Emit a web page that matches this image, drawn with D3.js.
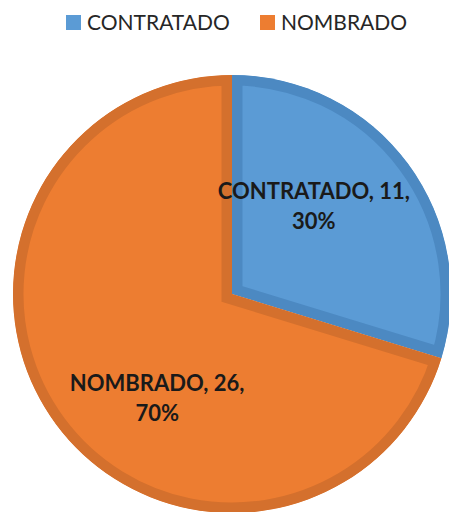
<!DOCTYPE html>
<html>
<head>
<meta charset="utf-8">
<script src="https://cdn.jsdelivr.net/npm/d3@7"></script>
<style>
  body { margin: 0; background: #fff; }
  svg { display: block; }
</style>
</head>
<body>
<div id="vizArea"></div>
<script>
var w = 449
var h = 512

// DATA ********************************
var categories = ["CONTRATADO", "NOMBRADO"]
var counts = [11, 26]
var percentLabels = ["30%", "70%"]

var fills = ["#5B9BD5", "#ED7D31"]
var borders = ["#4C89C2", "#D4702D"]

var svg = d3.select("#vizArea").append("svg")
    .attr("width", w)
    .attr("height", h)

// PIE SET-UP ********************************
var cx = 232, cy = 294, radius = 219

var pie = d3.pie().sort(null).value(function(d){ return d.value; })
var arc = d3.arc().innerRadius(0).outerRadius(radius)

var data = categories.map(function(c, i){
    return {name: c, value: counts[i], pct: percentLabels[i], i: i}
})
var arcs = pie(data)

var g = svg.append("g").attr("transform", "translate(" + cx + "," + cy + ")")

// clip every slice to itself so its thick border only shows on the inside
var defs = svg.append("defs")
defs.selectAll("clipPath")
    .data(arcs)
    .enter()
    .append("clipPath")
    .attr("id", function(d){ return "clip" + d.data.i; })
    .append("path")
    .attr("d", arc)

g.selectAll("path.slice")
    .data(arcs)
    .enter()
    .append("path")
    .attr("class", "slice")
    .attr("d", arc)
    .attr("clip-path", function(d){ return "url(#clip" + d.data.i + ")"; })
    .style("fill", function(d){ return fills[d.data.i]; })
    .style("stroke", function(d){ return borders[d.data.i]; })
    .style("stroke-width", 21)
    .style("stroke-linejoin", "miter")

// DATA LABELS *********************
// start from slice centroid, then nudge like excel does
var labelArc = d3.arc().innerRadius(radius * 0.55).outerRadius(radius * 0.55)
var nudges = [[-15, -21], [22, 28]]

var labels = g.selectAll("text.lbl")
    .data(arcs)
    .enter()
    .append("text")
    .attr("class", "lbl")
    .attr("transform", function(d){
        var c = labelArc.centroid(d)
        var n = nudges[d.data.i]
        return "translate(" + (c[0] + n[0]) + "," + (c[1] + n[1]) + ")"
    })
    .attr("text-anchor", "middle")
    .style("font-family", "Lato, 'Open Sans', sans-serif")
    .style("font-weight", "bold")
    .style("font-size", "22px")
    .style("fill", "#1a1a1a")

labels.append("tspan")
    .attr("x", 0)
    .attr("dy", "-0.1em")
    .text(function(d){ return d.data.name + ", " + d.data.value + ","; })
labels.append("tspan")
    .attr("x", 0)
    .attr("dy", "1.36em")
    .text(function(d){ return d.data.pct; })

// LEGEND *********************
var legendX = [66, 260]
var legend = svg.selectAll("g.legend")
    .data(categories)
    .enter()
    .append("g")
    .attr("class", "legend")
    .attr("transform", function(d, i){ return "translate(" + legendX[i] + ",15)"; })

legend.append("rect")
    .attr("width", 15)
    .attr("height", 15)
    .style("fill", function(d, i){ return fills[i]; })

legend.append("text")
    .attr("x", 21)
    .attr("y", 15)
    .style("font-family", "Lato, 'Open Sans', sans-serif")
    .style("font-size", "21px")
    .style("fill", "#262626")
    .text(function(d){ return d; })
</script>
</body>
</html>
